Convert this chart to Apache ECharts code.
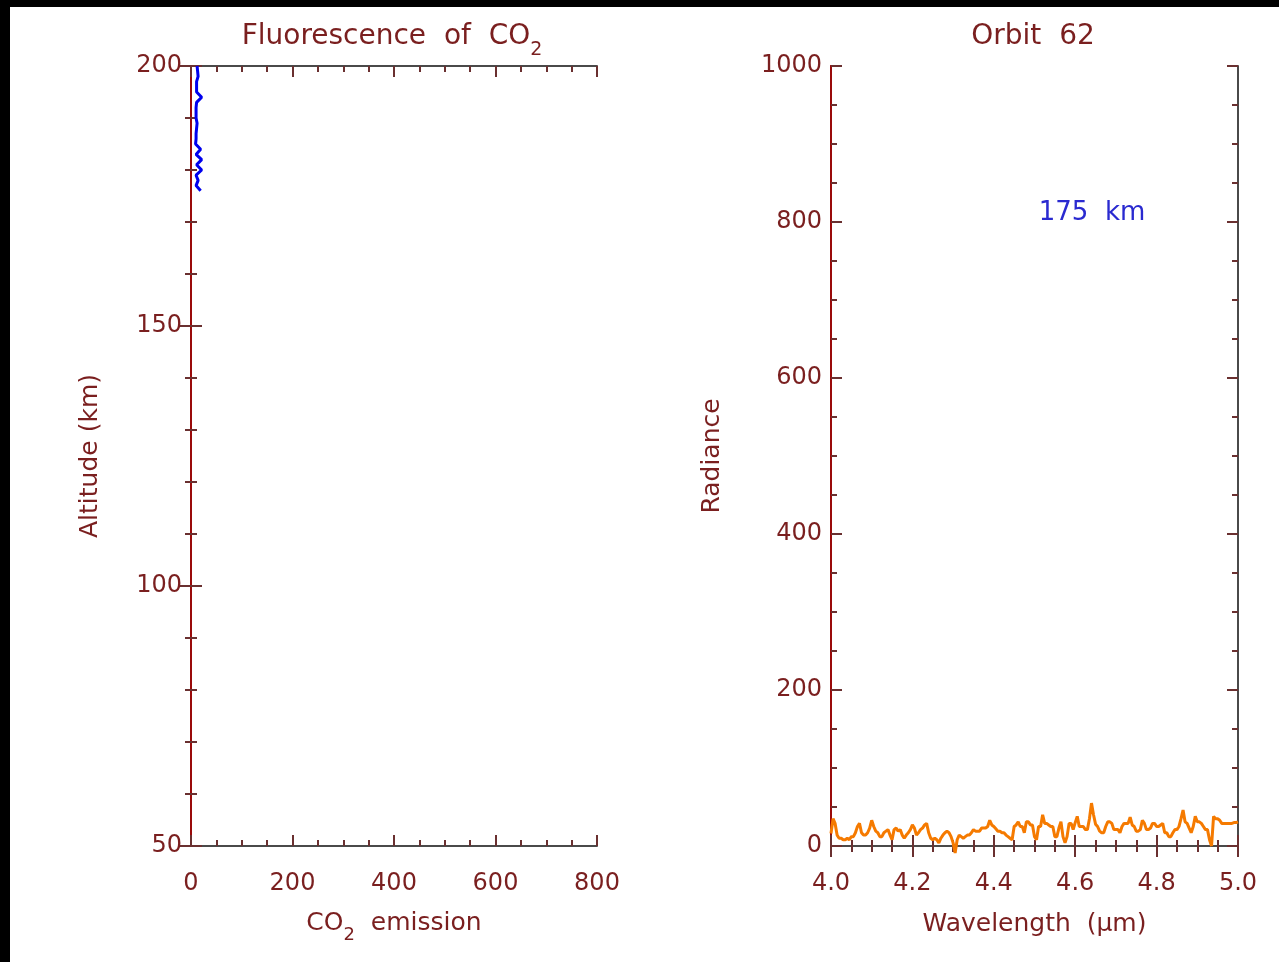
<!DOCTYPE html>
<html>
<head>
<meta charset="utf-8">
<style>
html,body{margin:0;padding:0;background:#fff;}
#chart{width:1279px;height:962px;}
</style>
<script src="https://cdn.jsdelivr.net/npm/echarts@6/dist/echarts.min.js"></script>
</head>
<body>
<div id="chart"></div>
<script>
// ---- Left panel: CO2 fluorescence profile ----
const altitudes = [200,199,198,197,196,195,194,193,192,191,190,189,188,187,186,185,184,183,182,181,180,179,178,177,176];
const emission  = [12,13,14,11,11,11,21,11,10,10,10,12,11,10,10,9,19,10,21,11,21,10,14,10,19];
const emissionTicks = [0,200,400,600,800];
const altitudeTicks = [50,100,150,200];

// ---- Right panel: spectrum, Orbit 62 ----
const wlStart = 4.0, wlStep = 0.005;
const radiance = [
  16,35,29,14,10,10,8,8,10,8,12,12,17,25,29,17,14,14,17,23,
  33,25,19,17,12,12,17,19,21,14,8,21,23,19,21,14,10,14,17,21,
  27,23,14,17,21,23,27,29,17,10,8,10,8,4,10,14,17,19,17,12,
  4,-9,8,14,12,10,12,14,14,17,21,19,19,19,23,23,23,25,33,27,
  25,22,19,19,17,17,14,12,10,8,25,27,31,25,25,17,31,31,27,27,
  12,8,25,25,40,29,29,27,25,25,12,12,23,31,12,4,12,29,29,21,
  30,38,25,25,25,21,21,35,55,40,28,25,19,17,17,25,31,31,29,21,
  21,21,17,25,29,29,29,37,27,25,19,19,21,33,29,21,21,23,29,29,
  25,25,27,29,17,17,12,12,17,21,21,25,35,46,31,29,23,17,25,38,
  31,31,29,25,21,21,8,0,38,35,35,33,29,29,29,29,29,29,30,30,
  31
];
const wavelengthTicks = [4.0,4.2,4.4,4.6,4.8,5.0];
const radianceTicks = [0,200,400,600,800,1000];

const txt = '#7a1f1f';
const lineGray = '#4a4a4a';
const axisRed = '#9a0a0a';
const tickCol = '#6a3030';
const fontFam = 'DejaVu Sans';
const LBL = 24;

const profileData = altitudes.map((a,i)=>[emission[i], a]);
const spectrumData = radiance.map((r,i)=>[+(wlStart + i*wlStep).toFixed(3), r]);

const ticksOn = (inside)=>({show:true, inside:inside, length:11, lineStyle:{color:tickCol, width:2}});
const minorOn = (n)=>({show:true, splitNumber:n, length:6, lineStyle:{color:tickCol, width:2}});

function xLabelAxis(grid, min, max, interval, fmt, name, rich, gap) {
  return {
    type:'value', gridIndex:grid, position:'bottom', min, max, interval,
    axisLine:{show:true, lineStyle:{color:lineGray, width:2}},
    axisTick:ticksOn(true), minorTick:minorOn(4),
    splitLine:{show:false},
    axisLabel:{show:true, color:txt, fontSize:LBL, fontFamily:fontFam, margin:26, formatter:fmt},
    name, nameLocation:'middle', nameGap:gap,
    nameTextStyle:{color:txt, fontSize:25, fontFamily:fontFam, rich}
  };
}
function xTopAxis(grid, min, max, interval) {
  return {
    type:'value', gridIndex:grid, position:'top', min, max, interval,
    axisLine:{show:true, lineStyle:{color:lineGray, width:2}},
    axisTick:ticksOn(true), minorTick:minorOn(4),
    splitLine:{show:false}, axisLabel:{show:false}
  };
}
function yLabelAxis(grid, min, max, interval, name, gap) {
  return {
    type:'value', gridIndex:grid, position:'left', min, max, interval,
    axisLine:{show:true, lineStyle:{color:axisRed, width:2}},
    axisTick:{show:false}, minorTick:{show:false},
    splitLine:{show:false},
    axisLabel:{show:true, color:txt, fontSize:LBL, fontFamily:fontFam, margin:9, formatter:v=>String(v)},
    name, nameLocation:'middle', nameGap:gap, nameRotate:90,
    nameTextStyle:{color:txt, fontSize:25, fontFamily:fontFam}
  };
}
function yTickAxis(grid, min, max, interval, n, offset, inside, col) {
  return {
    type:'value', gridIndex:grid, position:'right', offset, min, max, interval,
    axisLine:{show:true, lineStyle:{color:col, width:2}},
    axisTick:ticksOn(inside), minorTick:minorOn(n),
    splitLine:{show:false}, axisLabel:{show:false}
  };
}
const subRich = {
  n:{color:txt, fontSize:25, fontFamily:fontFam},
  s:{color:txt, fontSize:18, fontFamily:fontFam, padding:[24,0,0,0]}
};

const option = {
  backgroundColor:'#ffffff',
  animation:false,
  grid:[
    {left:191, top:66, width:406, height:780},
    {left:831, top:66, width:407, height:780}
  ],
  xAxis:[
    xLabelAxis(0,0,800,200,null,'{n|CO}{s|2}{n|  emission}',subRich,56),
    xTopAxis(0,0,800,200),
    xLabelAxis(1,4.0,5.0,0.2,v=>v.toFixed(1),'Wavelength  (\u03bcm)',null,66),
    xTopAxis(1,4.0,5.0,0.2)
  ],
  yAxis:[
    yLabelAxis(0,50,200,50,'Altitude (km)',88),
    yTickAxis(0,50,200,50,5,0,true,lineGray),
    yTickAxis(0,50,200,50,5,-406,false,axisRed),
    yLabelAxis(1,0,1000,200,'Radiance',106),
    yTickAxis(1,0,1000,200,4,0,true,lineGray),
    yTickAxis(1,0,1000,200,4,-407,false,axisRed)
  ],
  graphic:[
    {type:'rect', shape:{x:0,y:0,width:1279,height:7}, style:{fill:'#000'}, z:100},
    {type:'rect', shape:{x:0,y:0,width:10,height:962}, style:{fill:'#000'}, z:100},
    {type:'text', x:392, y:37, style:{text:'{n|Fluorescence  of  CO}{s|2}', align:'center', verticalAlign:'middle',
      rich:{n:{fill:txt, fontSize:28, fontFamily:fontFam}, s:{fill:txt, fontSize:19, fontFamily:fontFam, padding:[27,0,0,0]}}}},
    {type:'text', x:1033, y:37, style:{text:'Orbit  62', align:'center', verticalAlign:'middle', fill:txt, fontSize:28, fontFamily:fontFam}},
    {type:'text', x:1092, y:213, style:{text:'175  km', align:'center', verticalAlign:'middle', fill:'#2a2ad0', fontSize:26, fontFamily:fontFam}}
  ],
  series:[
    {type:'line', xAxisIndex:0, yAxisIndex:0, data:profileData, showSymbol:false, symbol:'none',
      lineStyle:{color:'#0000ee', width:3}, clip:false},
    {type:'line', xAxisIndex:2, yAxisIndex:3, data:spectrumData, showSymbol:false, symbol:'none',
      lineStyle:{color:'#f57a00', width:3}, clip:false}
  ]
};
const chart = echarts.init(document.getElementById('chart'), null, {renderer:'canvas'});
chart.setOption(option);
</script>
</body>
</html>
